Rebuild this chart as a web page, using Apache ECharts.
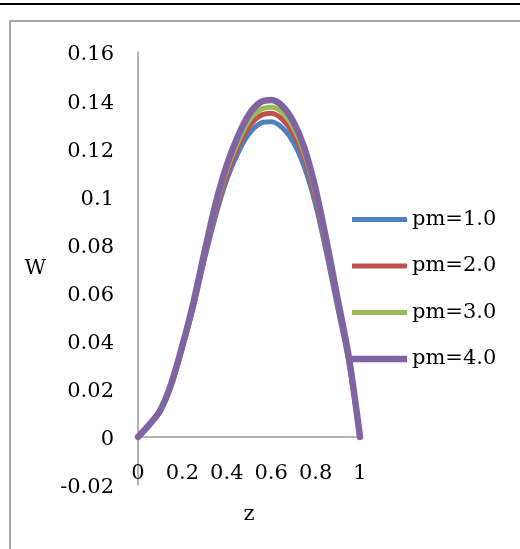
<!DOCTYPE html>
<html>
<head>
<meta charset="utf-8">
<script src="https://cdn.jsdelivr.net/npm/echarts@6/dist/echarts.min.js"></script>
<style>
html,body{margin:0;padding:0;background:#fff;}
#c{width:520px;height:549px;}
</style>
</head>
<body>
<div id="c"></div>
<script>
var zValues = [0, 0.05, 0.1, 0.15, 0.2, 0.25, 0.3, 0.35, 0.4, 0.45, 0.5, 0.55, 0.6, 0.65, 0.7, 0.75, 0.8, 0.85, 0.9, 0.95, 1];
var seriesNames = ['pm=1.0', 'pm=2.0', 'pm=3.0', 'pm=4.0'];
var wPm1 = [0, 0.005, 0.011, 0.0215, 0.037, 0.054, 0.074, 0.092, 0.107, 0.118, 0.126, 0.1303, 0.131, 0.1285, 0.1225, 0.112, 0.0965, 0.076, 0.0535, 0.031, 0];
var wPm2 = [0, 0.005, 0.011, 0.0218, 0.0375, 0.055, 0.075, 0.094, 0.109, 0.1205, 0.129, 0.1335, 0.1345, 0.132, 0.126, 0.1155, 0.099, 0.078, 0.055, 0.0318, 0];
var wPm3 = [0, 0.005, 0.011, 0.022, 0.0378, 0.0555, 0.076, 0.0955, 0.111, 0.1225, 0.1315, 0.136, 0.137, 0.1348, 0.1285, 0.1178, 0.101, 0.0795, 0.056, 0.0325, 0];
var wPm4 = [0, 0.005, 0.011, 0.0222, 0.038, 0.056, 0.077, 0.097, 0.113, 0.125, 0.134, 0.139, 0.140, 0.1375, 0.131, 0.120, 0.103, 0.081, 0.057, 0.033, 0];
var xTicks = [0, 0.2, 0.4, 0.6, 0.8, 1];
var yTicks = [-0.02, 0, 0.02, 0.04, 0.06, 0.08, 0.1, 0.12, 0.14, 0.16];

var colors = ['#4F81BD', '#C0504D', '#9BBB59', '#8064A2'];
var widths = [5, 5, 5, 6.5];
var allW = [wPm1, wPm2, wPm3, wPm4];
var FONT = 'DejaVu Serif';

function pairs(ys) { return zValues.map(function (z, i) { return [z, ys[i]]; }); }
function barIcon(h) { return 'path://M0,0L55,0L55,' + h + 'L0,' + h + 'Z'; }

var chart = echarts.init(document.getElementById('c'), null, {renderer: 'canvas'});
chart.setOption({
  animation: false,
  backgroundColor: '#fff',
  textStyle: {fontFamily: FONT},
  graphic: [
    {type: 'line', shape: {x1: 0, y1: 4, x2: 520, y2: 4}, style: {stroke: '#000', lineWidth: 2}},
    {type: 'rect', shape: {x: 10, y: 21, width: 530, height: 560}, style: {fill: 'none', stroke: '#a6a6a6', lineWidth: 2}}
  ],
  grid: {left: 138, top: 52, width: 222, height: 433, containLabel: false, outerBoundsMode: 'none'},
  legend: {
    orient: 'vertical',
    left: 352,
    top: 209,
    padding: 0,
    itemWidth: 55,
    itemHeight: 14,
    itemGap: 25.5,
    symbolKeepAspect: true,
    data: seriesNames.map(function (n, k) {
      return {name: n, icon: barIcon(widths[k]), itemStyle: {color: colors[k], borderWidth: 0}};
    }),
    textStyle: {fontFamily: FONT, fontSize: 21, color: '#000'}
  },
  xAxis: {
    type: 'value',
    min: 0, max: 1, interval: 0.2,
    name: 'z',
    nameLocation: 'middle',
    nameGap: 19,
    nameTextStyle: {fontFamily: FONT, fontSize: 21, color: '#000'},
    axisLine: {onZero: true, lineStyle: {color: '#9a9a9a', width: 1.5}},
    axisTick: {show: false},
    splitLine: {show: false},
    axisLabel: {
      fontFamily: FONT, fontSize: 21, color: '#000', margin: -22,
      formatter: function (v) { var i = xTicks.findIndex(function (t) { return Math.abs(t - v) < 1e-9; }); return i >= 0 ? String(xTicks[i]) : ''; }
    }
  },
  yAxis: {
    type: 'value',
    min: -0.02, max: 0.16, interval: 0.02,
    name: 'W',
    nameLocation: 'middle',
    nameGap: 92,
    nameRotate: 0,
    nameTextStyle: {fontFamily: FONT, fontSize: 21, color: '#000'},
    axisLine: {show: true, lineStyle: {color: '#9a9a9a', width: 1.5}},
    axisTick: {show: false},
    splitLine: {show: false},
    axisLabel: {
      fontFamily: FONT, fontSize: 21, color: '#000', margin: 24,
      rich: {t: {fontFamily: FONT, fontSize: 21, color: '#000', padding: [6, 0, 0, 0]}},
      formatter: function (v) { var i = yTicks.findIndex(function (t) { return Math.abs(t - v) < 1e-9; }); return i >= 0 ? '{t|' + String(yTicks[i]) + '}' : ''; }
    }
  },
  series: allW.map(function (ys, k) {
    return {
      name: seriesNames[k],
      type: 'line',
      data: pairs(ys),
      smooth: 0.3,
      symbol: 'none',
      color: colors[k],
      lineStyle: {color: colors[k], width: widths[k], cap: 'round', join: 'round'}
    };
  })
});
</script>
</body>
</html>
